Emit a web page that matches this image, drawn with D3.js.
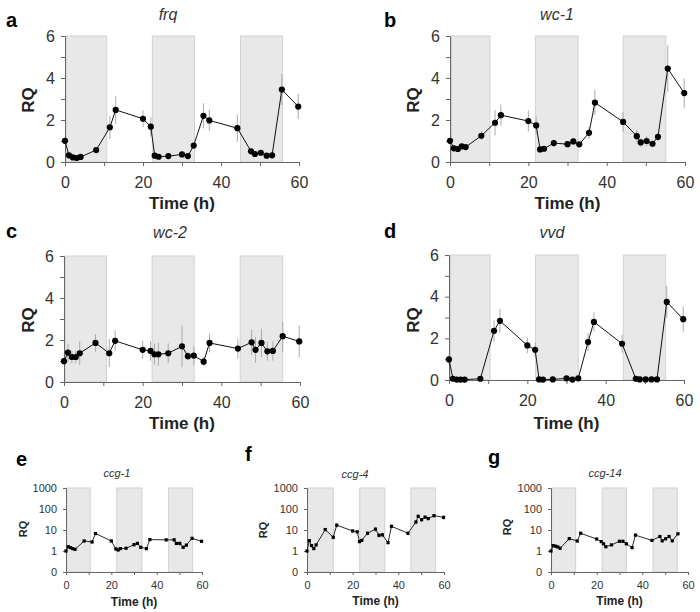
<!DOCTYPE html>
<html><head><meta charset="utf-8">
<script src="https://cdn.jsdelivr.net/npm/d3@7"></script>
<style>
body{margin:0;background:#fff;}
svg{display:block;font-family:"Liberation Sans",Arial,sans-serif;}
</style></head>
<body><svg id="chart" width="700" height="612"></svg>
<script>
// ---- data ----
const times = [0,1,2,3,4,8,11.5,13,20,22,23,24,26.5,30,31.5,33,35.5,37,44.2,47.7,48.7,50.2,51.7,53.1,55.6,59.8];

const frq    = [1.01,0.32,0.22,0.19,0.24,0.57,1.65,2.48,2.06,1.68,0.30,0.25,0.28,0.36,0.28,0.78,2.2,1.98,1.61,0.51,0.38,0.44,0.30,0.32,3.45,2.64];
const frqErr = [0.05,0.05,0.04,0.04,0.05,0.1,0.55,0.65,0.4,0.45,0.05,0.05,0.06,0.08,0.06,0.12,0.6,0.5,0.65,0.1,0.08,0.08,0.06,0.06,0.75,0.6];

const wc1    = [1.01,0.65,0.62,0.74,0.71,1.25,1.87,2.23,1.95,1.74,0.60,0.63,0.90,0.85,0.98,0.84,1.39,2.83,1.91,1.23,0.93,1.0,0.87,1.2,4.45,3.28];
const wc1Err = [0.05,0.08,0.08,0.1,0.08,0.2,0.6,0.5,0.5,0.43,0.1,0.1,0.15,0.15,0.15,0.12,0.3,0.6,0.46,0.3,0.2,0.25,0.15,0.2,1.1,0.7];

const wc2    = [0.99,1.40,1.19,1.19,1.37,1.86,1.37,1.96,1.53,1.48,1.32,1.32,1.37,1.70,1.23,1.26,0.97,1.86,1.59,1.89,1.53,1.86,1.46,1.48,2.18,1.93];
const wc2Err = [0.1,0.43,0.3,0.3,0.57,0.42,0.67,0.5,0.43,0.46,0.5,0.55,0.47,1.0,0.2,0.44,0.2,0.45,0.48,0.6,0.62,0.68,0.45,0.46,0.72,0.75];

const vvd    = [0.99,0.06,0.02,0.02,0.02,0.06,2.36,2.84,1.66,1.45,0.03,0.02,0.03,0.08,0.02,0.08,1.82,2.79,1.74,0.06,0.03,0.03,0.03,0.03,3.75,2.92];
const vvdErr = [0.27,0.02,0.01,0.01,0.01,0.02,0.5,0.57,0.37,0.35,0.01,0.01,0.01,0.03,0.01,0.03,0.43,0.46,0.43,0.02,0.01,0.01,0.01,0.01,0.77,0.6];

const ccg1    = [1.0,1.6,1.45,1.3,1.2,3.0,2.7,6.8,3.0,1.25,1.12,1.3,1.35,2.0,2.3,1.5,1.3,3.5,3.4,3.4,2.3,2.3,1.5,1.9,4.0,2.9];
const ccg1Err = [0.1,0.3,0.2,0.2,0.15,0.4,0.5,1.0,0.4,0.2,0.15,0.15,0.2,0.4,0.4,0.3,0.2,0.5,0.6,0.8,0.5,0.6,0.3,0.4,0.8,0.5];

const ccg4    = [1.0,3.1,1.8,1.3,1.95,10.5,4.5,17,9,8.2,2.8,3.2,7,11,5.6,5.9,2.5,15,7,24,45,31,41,35,48,40];
const ccg4Err = [0.1,0.6,0.3,0.2,0.3,2,1,5,2,2,0.5,0.5,1.5,3,1.5,1.5,0.5,3,1.5,6,10,8,8,7,10,10];

const ccg14    = [1.0,1.8,1.7,1.55,1.35,3.9,3.0,7.0,3.7,2.8,2.2,1.6,1.95,2.9,2.9,2.2,1.45,5.7,3.2,4.9,3.05,3.8,4.9,3.05,6.6];
const ccg14Err = [0.1,0.3,0.3,0.2,0.2,0.6,0.5,1,0.6,0.4,0.3,0.2,0.3,0.5,0.5,0.3,0.2,0.8,0.5,0.8,0.5,0.6,0.8,0.5,1.0];

const darkA = [[0.3,10.7],[22.4,33.2],[45,55.8]];
const darkB = [[0.4,10.2],[21.8,32.7],[44.2,55.1]];
const darkC = [[0.3,10.8],[22.4,33.1],[44.8,55.6]];
const darkD = [[0.4,10.5],[22.1,33],[44.5,55.3]];
const darkE = [[0.3,10.7],[22.4,33.5],[45.2,55.9]];
const darkF = [[0.3,11.5],[23.1,34.1],[45.5,56.3]];
const darkG = [[0.3,10.8],[22.4,33],[44.7,55.3]];

const xTicks = [0,10,20,30,40,50,60];
const xTickLabels = ["0","","20","","40","","60"];
const linTicks = [0,1,2,3,4,5,6];
const linTickLabels = ["0","","2","","4","","6"];
const logTicks = [0.1,1,10,100,1000];
const logTickLabels = ["0","1","10","100","1000"];

// ---- drawing ----
const svg = d3.select("#chart");

function panel(o){
  const g = svg.append("g");
  const x = d3.scaleLinear().domain([0,60]).range([o.x0,o.x1]);
  const y = o.log ? d3.scaleLog().domain([0.1,1000]).range([o.yb,o.yt])
                  : d3.scaleLinear().domain([0,6]).range([o.yb,o.yt]);
  const big = !o.log;
  // shading
  g.selectAll("rect.dark").data(o.dark).join("rect")
    .attr("x",d=>x(d[0])).attr("width",d=>x(d[1])-x(d[0]))
    .attr("y",o.yt).attr("height",o.yb-o.yt)
    .attr("fill","#e8e8e8").attr("stroke","#d2d2d2").attr("stroke-width",1);
  // axes
  const fs = big?16:11;
  const xa = d3.axisBottom(x).tickValues(xTicks).tickFormat((d,i)=>xTickLabels[i])
      .tickSize(big?4:3).tickPadding(big?11:6);
  const ya = (o.log? d3.axisLeft(y).tickValues(logTicks).tickFormat((d,i)=>logTickLabels[i])
                   : d3.axisLeft(y).tickValues(linTicks).tickFormat((d,i)=>linTickLabels[i]))
      .tickSize(big?4:3).tickPadding(6);
  const gx = g.append("g").attr("transform",`translate(0,${o.yb})`).call(xa);
  const gy = g.append("g").attr("transform",`translate(${o.x0},0)`).call(ya);
  [gx,gy].forEach(a=>{
    a.select(".domain").attr("stroke","#666");
    a.selectAll(".tick line").attr("stroke","#666");
    a.selectAll(".tick text").attr("fill","#333").attr("font-size",fs)
      .attr("font-family","'Liberation Sans',Arial,sans-serif");
  });
  // error bars
  const pts = o.vals.map((v,i)=>({t:times[i],v:v,e:o.errs[i]}));
  g.selectAll("line.err").data(pts).join("line")
    .attr("x1",d=>x(d.t)).attr("x2",d=>x(d.t))
    .attr("y1",d=>y(o.log?Math.max(0.1,d.v-d.e):Math.max(0,d.v-d.e)))
    .attr("y2",d=>y(d.v+d.e))
    .attr("stroke","#aaa").attr("stroke-width",1);
  // line
  g.append("path").datum(pts)
    .attr("d",d3.line().x(d=>x(d.t)).y(d=>y(d.v)))
    .attr("fill","none").attr("stroke","#111").attr("stroke-width",big?1:0.9);
  // markers
  if(big){
    g.selectAll("circle.pt").data(pts).join("circle")
      .attr("cx",d=>x(d.t)).attr("cy",d=>y(d.v)).attr("r",3.1).attr("fill","#000");
  } else {
    g.selectAll("rect.pt").data(pts).join("rect")
      .attr("x",d=>x(d.t)-1.6).attr("y",d=>y(d.v)-1.6).attr("width",3.2).attr("height",3.2).attr("fill","#000");
  }
  // labels
  const mid = (o.x0+o.x1)/2;
  g.append("text").attr("x",o.titleX).attr("y",o.titleY).attr("text-anchor","middle")
    .attr("font-style","italic").attr("font-size",big?16:11).attr("fill","#333").text(o.title);
  g.append("text").attr("x",o.letterX).attr("y",o.letterY)
    .attr("font-weight","bold").attr("font-size",20).attr("fill","#000").text(o.letter);
  g.append("text").attr("x",mid).attr("y",o.timeY).attr("text-anchor","middle")
    .attr("font-weight","bold").attr("font-size",big?17:12).attr("fill","#222").text("Time (h)");
  g.append("text").attr("transform",`translate(${o.rqX},${o.rqY}) rotate(-90)`)
    .attr("text-anchor","middle").attr("font-weight","bold").attr("font-size",big?17:11)
    .attr("fill","#222").text("RQ");
}

panel({x0:65,x1:299,yt:36,yb:162,dark:darkA,vals:frq,errs:frqErr,title:"frq",titleX:168,titleY:20,
       letter:"a",letterX:6,letterY:27,timeY:209,rqX:34,rqY:100});
panel({x0:450,x1:685,yt:36,yb:162,dark:darkB,vals:wc1,errs:wc1Err,title:"wc-1",titleX:557,titleY:20,
       letter:"b",letterX:384,letterY:27,timeY:209,rqX:419,rqY:100});
panel({x0:64,x1:300,yt:256,yb:382,dark:darkC,vals:wc2,errs:wc2Err,title:"wc-2",titleX:170,titleY:238,
       letter:"c",letterX:6,letterY:238,timeY:429,rqX:34,rqY:320});
panel({x0:449,x1:684,yt:255,yb:380,dark:darkD,vals:vvd,errs:vvdErr,title:"vvd",titleX:552,titleY:238,
       letter:"d",letterX:384,letterY:238,timeY:429,rqX:419,rqY:320});
panel({log:true,x0:66,x1:202,yt:488,yb:572,dark:darkE,vals:ccg1,errs:ccg1Err,title:"ccg-1",titleX:117,titleY:477,
       letter:"e",letterX:16,letterY:466,timeY:606,rqX:27,rqY:529});
panel({log:true,x0:307,x1:444,yt:488,yb:572,dark:darkF,vals:ccg4,errs:ccg4Err,title:"ccg-4",titleX:355,titleY:478,
       letter:"f",letterX:245,letterY:461,timeY:605,rqX:267,rqY:530});
panel({log:true,x0:551,x1:688,yt:488,yb:572,dark:darkG,vals:ccg14,errs:ccg14Err,title:"ccg-14",titleX:605,titleY:477,
       letter:"g",letterX:488,letterY:464,timeY:605,rqX:511,rqY:527});
</script></body></html>
